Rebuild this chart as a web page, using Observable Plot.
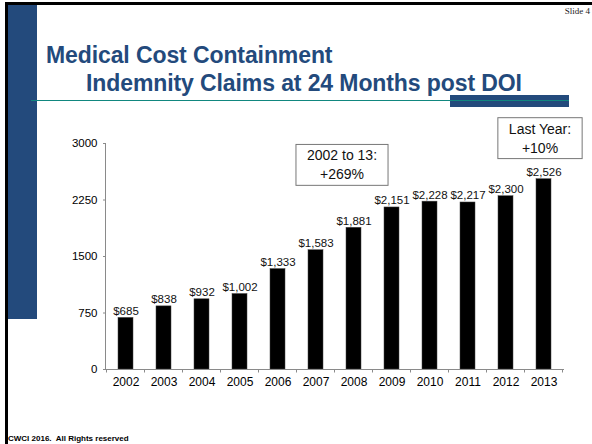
<!DOCTYPE html>
<html><head><meta charset="utf-8">
<script src="https://cdn.jsdelivr.net/npm/d3@7"></script>
<script src="https://cdn.jsdelivr.net/npm/@observablehq/plot@0.6"></script>
<style>
html,body{margin:0;padding:0;background:#fff;}
body{width:592px;height:444px;position:relative;overflow:hidden;font-family:"Liberation Sans",Arial,Helvetica,sans-serif;}
.abs{position:absolute;}
.title{position:absolute;font-weight:bold;font-size:23px;line-height:23px;color:#234a7c;white-space:nowrap;letter-spacing:-0.1px;}
</style></head><body>
<div class="abs" style="left:5px;top:2px;width:587px;height:3px;background:#000"></div>
<div class="abs" style="left:5px;top:2px;width:3px;height:442px;background:#000"></div>
<div class="abs" style="left:8px;top:5px;width:29px;height:314px;background:#234a7c"></div>
<div class="abs" style="right:2px;top:6px;font-family:'Liberation Serif','Times New Roman',serif;font-size:9px;color:#222;">Slide 4</div>
<div class="title" style="left:46px;top:43.5px;">Medical Cost Containment</div>
<div class="title" style="left:86px;top:71.5px;">Indemnity Claims at 24 Months post DOI</div>
<div class="abs" style="left:450px;top:95px;width:119px;height:12px;background:#234a7c"></div>
<div class="abs" style="left:31px;top:99.5px;width:538px;height:1.5px;background:#11877f"></div>
<div class="abs" style="left:8px;top:434px;font-weight:bold;font-size:8px;line-height:9px;color:#000;white-space:nowrap;">CWCI 2016.&nbsp; All Rights reserved</div>
<div id="chart" class="abs" style="left:0;top:100px;"></div>
<script>
const years = ["2002","2003","2004","2005","2006","2007","2008","2009","2010","2011","2012","2013"];
const costs = [685, 838, 932, 1002, 1333, 1583, 1881, 2151, 2228, 2217, 2300, 2526];
const yTicks = [0, 750, 1500, 2250, 3000];
const noteTexts = ["2002 to 13:\n+269%", "Last Year:\n+10%"];
const noteYears = ["2008", "2013"];

const data = years.map((year, i) => ({year, cost: costs[i]}));
const notes = noteTexts.map((text, i) => ({text, year: noteYears[i]}));
const fmt = d3.format(",");

const W = 592, H = 300, ML = 106, MR = 28, MT = 43, MB = 31;

const plot = Plot.plot({
  width: W, height: H,
  marginLeft: ML, marginRight: MR, marginTop: MT, marginBottom: MB,
  style: {fontFamily: '"Liberation Sans", Arial, Helvetica, sans-serif', background: "transparent", color: "#000", overflow: "visible"},
  x: {domain: years, paddingInner: 0.6, paddingOuter: 0.3, label: null},
  y: {domain: [0, 3000], label: null},
  marks: [
    Plot.axisY(yTicks, {tickSize: 3, tickPadding: 6, stroke: "#8a8a8a", fill: "#000", fontSize: 11.5, label: null, tickFormat: d => String(d)}),
    Plot.axisX({tickSize: 0, tickPadding: 8, fill: "#000", fontSize: 12, label: null}),
    Plot.barY(data, {x: "year", y: "cost", fill: "#000", stroke: "#444", strokeWidth: 0.5}),
    Plot.ruleY([0], {stroke: "#8a8a8a"}),
    Plot.text(data, {x: "year", y: "cost", text: d => "$" + fmt(d.cost), lineAnchor: "bottom", dy: -3, fontSize: 11.5, fill: "#111"}),
    Plot.text([notes[0]], {x: "year", y: () => 2730, text: "text", dx: -12, fontSize: 14, lineHeight: 1.35, lineAnchor: "middle", fill: "#111"}),
    Plot.text([notes[1]], {x: "year", y: () => 3085, text: "text", dx: -4, fontSize: 14, lineHeight: 1.35, lineAnchor: "middle", fill: "#111"})
  ]
});

document.getElementById("chart").append(plot);
const svgEl = plot.tagName.toLowerCase() === "svg" ? plot : plot.querySelector("svg");

// boxes around annotations
const textGroups = svgEl.querySelectorAll('g[aria-label="text"]');
const noteGroups = Array.from(textGroups).slice(-2);
noteGroups.forEach(g => {
  g.querySelectorAll("text").forEach(t => {
    const b = t.getBBox();
    const r = document.createElementNS("http://www.w3.org/2000/svg", "rect");
    r.setAttribute("x", b.x - 11);
    r.setAttribute("y", b.y - 3);
    r.setAttribute("width", b.width + 22);
    r.setAttribute("height", b.height + 6);
    r.setAttribute("fill", "#fff");
    r.setAttribute("stroke", "#777");
    r.setAttribute("stroke-width", 1);
    const tr = t.getAttribute("transform");
    if (tr) r.setAttribute("transform", tr);
    g.insertBefore(r, t);
  });
});

// axis line and boundary ticks
const sx = plot.scale("x"), sy = plot.scale("y");
const step = sx.step ?? (W - ML - MR) / years.length;
const bw = sx.bandwidth ?? step * 0.4;
const y0 = sy.apply(0), yTop = sy.apply(3000);
const ax = d3.select(svgEl).append("g").attr("stroke", "#8a8a8a").attr("stroke-width", 1);
ax.append("line").attr("x1", ML - 0.5).attr("x2", ML - 0.5).attr("y1", yTop).attr("y2", y0 + 0.5);
const bounds = years.map(c => sx.apply(c) + bw / 2 - step / 2);
bounds.push(bounds[bounds.length - 1] + step);
bounds.forEach(bx => {
  ax.append("line").attr("x1", bx).attr("x2", bx).attr("y1", y0).attr("y2", y0 + 3.5);
});
</script>
</body></html>
